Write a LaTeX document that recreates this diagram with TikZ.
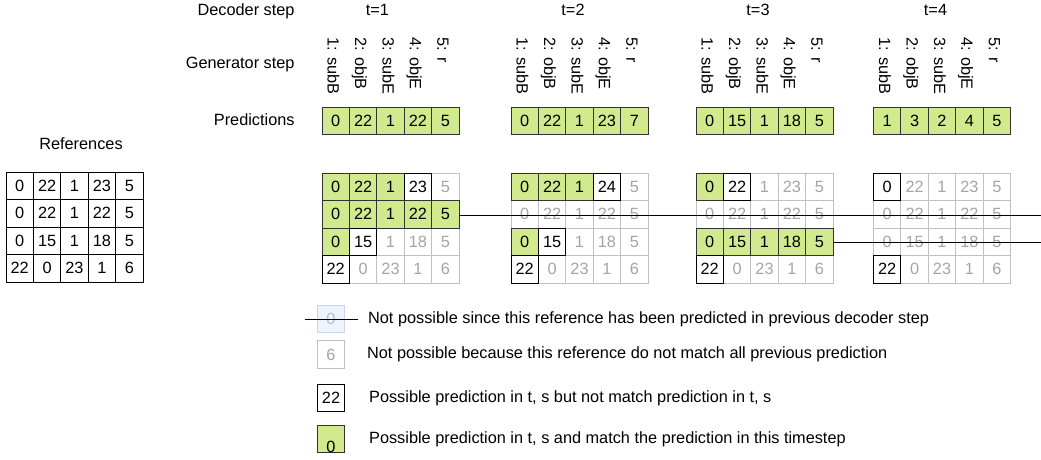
\documentclass[tikz,border=0pt]{standalone}
\usepackage{fontspec}
\setmainfont{Liberation Sans}
\usepackage{xcolor}
\usetikzlibrary{positioning}

\definecolor{hitgreen}{RGB}{208,234,141}
\definecolor{hitline}{RGB}{51,51,51}
\definecolor{fadeline}{RGB}{192,192,192}
\definecolor{fadetext}{RGB}{165,165,165}
\definecolor{usedfill}{RGB}{238,243,252}
\definecolor{usedline}{RGB}{202,212,234}
\definecolor{usedtext}{RGB}{178,190,212}

\begin{document}
\begin{tikzpicture}[
    x=1pt, y=-1pt,
    font=\fontsize{16.3}{19}\selectfont,
    line width=0.9pt,
    cell/.style={
        minimum width=27.4pt,
        minimum height=27.5pt,
        inner sep=0pt,
        outer sep=0pt
    },
    hit/.style={cell, draw=hitline, fill=hitgreen},
    maybe/.style={cell, draw=black, fill=white},
    faded/.style={cell, draw=fadeline, fill=white, text=fadetext},
    refcell/.style={cell, draw=black},
    genlabel/.style={rotate=-90, anchor=base west, inner sep=0pt},
    rowlabel/.style={anchor=base east, inner sep=0pt},
    steplabel/.style={anchor=base, inner sep=0pt},
    legtext/.style={inner sep=0pt},
    strike/.style={draw=black, line width=0.9pt}
]
\useasboundingbox (0,0) rectangle (1041,459);
\coordinate (rightedge) at (1041,0);

% Row labels
\node[rowlabel] (declabel) at (295,15.5) {Decoder step};
\node[rowlabel] (genlabel) at (295,68.3) {Generator step};
\node[rowlabel] (predlabel) at (295,125) {Predictions};
\node[steplabel] (reflabel) at (81,149.3) {References};

% References
\begin{scope}[shift={(6,172)}]
\foreach \row [count=\r] in {{0,22,1,23,5},{0,22,1,22,5},{0,15,1,18,5},{22,0,23,1,6}}
    \foreach \v [count=\c] in \row
        \node[refcell] (ref-\r-\c) at ({27.4*\c-13.7},{27.5*\r-13.75}) {\v};
\end{scope}

% Decoder step t=1
\begin{scope}[shift={(322,107)}]
\node[steplabel] (t1) at (55.5,-91.5) {t=1};
\foreach \g [count=\c] in {1: subB,2: objB,3: subE,4: objE,5: r}
    \node[genlabel] (g1-\c) at ({27.4*\c-21.7},-70) {\g};
\foreach \v [count=\c] in {0,22,1,22,5}
    \node[hit] (p1-\c) at ({27.4*\c-13.7},13.75) {\v};
\end{scope}
\begin{scope}[shift={(322,173)}]
\foreach \r/\c/\v in {1/5/5,3/3/1,3/4/18,3/5/5,4/2/0,4/3/23,4/4/1,4/5/6}
    \node[faded] (a1-\r-\c) at ({27.4*\c-13.7},{27.5*\r-13.75}) {\v};
\foreach \r/\c/\v/\s in {1/1/0/hit,1/2/22/hit,1/3/1/hit,1/4/23/maybe,
        2/1/0/hit,2/2/22/hit,2/3/1/hit,2/4/22/hit,2/5/5/hit,
        3/1/0/hit,3/2/15/maybe,4/1/22/maybe}
    \node[\s] (a1-\r-\c) at ({27.4*\c-13.7},{27.5*\r-13.75}) {\v};
\end{scope}

% Decoder step t=2
\begin{scope}[shift={(511,107)}]
\node[steplabel] (t2) at (62,-91.5) {t=2};
\foreach \g [count=\c] in {1: subB,2: objB,3: subE,4: objE,5: r}
    \node[genlabel] (g2-\c) at ({27.4*\c-21.7},-70) {\g};
\foreach \v [count=\c] in {0,22,1,23,7}
    \node[hit] (p2-\c) at ({27.4*\c-13.7},13.75) {\v};
\end{scope}
\begin{scope}[shift={(511,173)}]
\foreach \r/\c/\v in {1/5/5,2/1/0,2/2/22,2/3/1,2/4/22,2/5/5,
        3/3/1,3/4/18,3/5/5,4/2/0,4/3/23,4/4/1,4/5/6}
    \node[faded] (a2-\r-\c) at ({27.4*\c-13.7},{27.5*\r-13.75}) {\v};
\foreach \r/\c/\v/\s in {1/1/0/hit,1/2/22/hit,1/3/1/hit,1/4/24/maybe,
        3/1/0/hit,3/2/15/maybe,4/1/22/maybe}
    \node[\s] (a2-\r-\c) at ({27.4*\c-13.7},{27.5*\r-13.75}) {\v};
\end{scope}

% Decoder step t=3
\begin{scope}[shift={(696,107)}]
\node[steplabel] (t3) at (62,-91.5) {t=3};
\foreach \g [count=\c] in {1: subB,2: objB,3: subE,4: objE,5: r}
    \node[genlabel] (g3-\c) at ({27.4*\c-21.7},-70) {\g};
\foreach \v [count=\c] in {0,15,1,18,5}
    \node[hit] (p3-\c) at ({27.4*\c-13.7},13.75) {\v};
\end{scope}
\begin{scope}[shift={(696,173)}]
\foreach \r/\c/\v in {1/3/1,1/4/23,1/5/5,2/1/0,2/2/22,2/3/1,2/4/22,2/5/5,
        4/2/0,4/3/23,4/4/1,4/5/6}
    \node[faded] (a3-\r-\c) at ({27.4*\c-13.7},{27.5*\r-13.75}) {\v};
\foreach \r/\c/\v/\s in {1/1/0/hit,1/2/22/maybe,
        3/1/0/hit,3/2/15/hit,3/3/1/hit,3/4/18/hit,3/5/5/hit,4/1/22/maybe}
    \node[\s] (a3-\r-\c) at ({27.4*\c-13.7},{27.5*\r-13.75}) {\v};
\end{scope}

% Decoder step t=4
\begin{scope}[shift={(873.5,107)}]
\node[steplabel] (t4) at (62,-91.5) {t=4};
\foreach \g [count=\c] in {1: subB,2: objB,3: subE,4: objE,5: r}
    \node[genlabel] (g4-\c) at ({27.4*\c-21.7},-70) {\g};
\foreach \v [count=\c] in {1,3,2,4,5}
    \node[hit] (p4-\c) at ({27.4*\c-13.7},13.75) {\v};
\end{scope}
\begin{scope}[shift={(873.5,173)}]
\foreach \r/\c/\v in {1/2/22,1/3/1,1/4/23,1/5/5,2/1/0,2/2/22,2/3/1,2/4/22,2/5/5,
        3/1/0,3/2/15,3/3/1,3/4/18,3/5/5,4/2/0,4/3/23,4/4/1,4/5/6}
    \node[faded] (a4-\r-\c) at ({27.4*\c-13.7},{27.5*\r-13.75}) {\v};
\foreach \r/\c/\v/\s in {1/1/0/maybe,4/1/22/maybe}
    \node[\s] (a4-\r-\c) at ({27.4*\c-13.7},{27.5*\r-13.75}) {\v};
\end{scope}

% Strike-through of used references
\draw[strike] ([yshift=-1pt]a1-2-5.east) -- ([yshift=-1pt]a1-2-5.east -| rightedge);
\draw[strike] ([yshift=-1pt]a3-3-5.east) -- ([yshift=-1pt]a3-3-5.east -| rightedge);

% Legend
\node[cell, draw=usedline, fill=usedfill, text=usedtext] (leg1) at (331,319) {0};
\draw[strike] ([xshift=-12pt]leg1.west) -- ([xshift=13pt]leg1.east);
\node[faded] (leg2) at (331,354.5) {6};
\node[maybe] (leg3) at (331,398) {22};
\node[hit, text height=27.5pt, text depth=0pt] (leg4) at (331,439) {0};

\node[legtext, right=23pt of leg1] (legtext1) {Not possible since this reference has been predicted in previous decoder step};
\node[legtext, right=22pt of leg2] (legtext2) {Not possible because this reference do not match all previous prediction};
\node[legtext, right=24pt of leg3] (legtext3) {Possible prediction in t, s but not match prediction in t, s};
\node[legtext, right=24pt of leg4] (legtext4) {Possible prediction in t, s and match the prediction in this timestep};

\end{tikzpicture}
\end{document}
